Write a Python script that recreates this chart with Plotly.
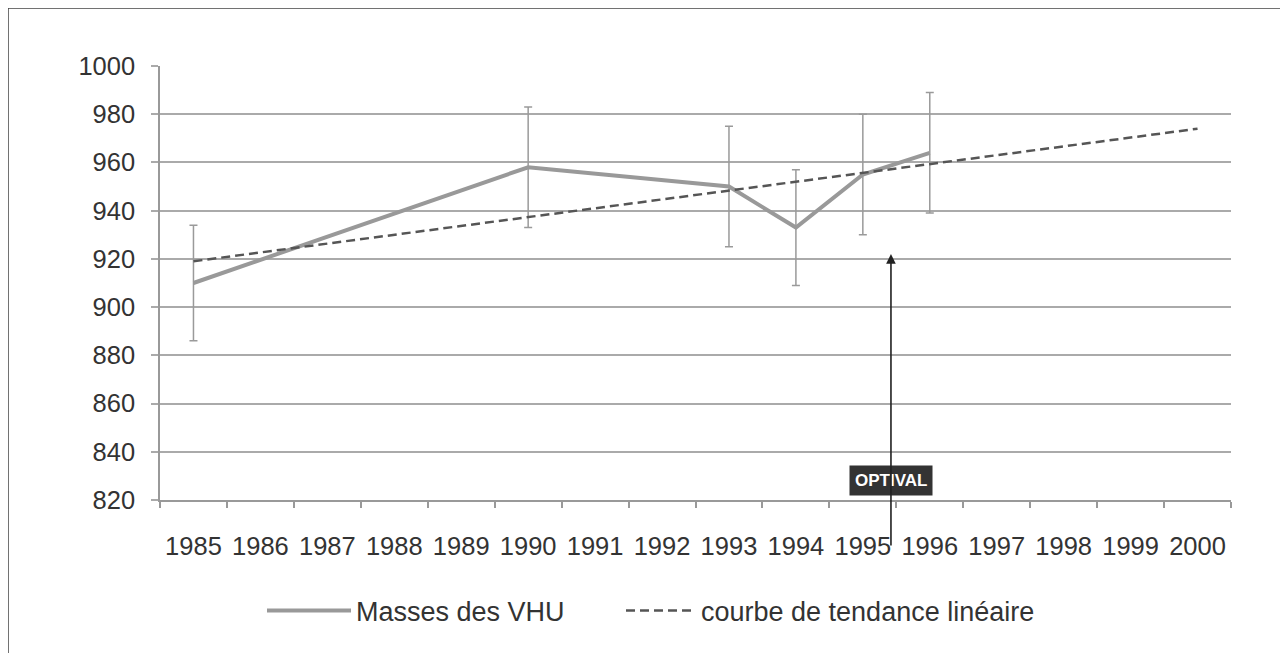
import plotly.graph_objects as go

years = [str(y) for y in range(1985, 2001)]
obs_years = ["1985", "1990", "1993", "1994", "1995", "1996"]
obs_mass = [910, 958, 950, 933, 955, 964]
obs_err = [24, 25, 25, 24, 25, 25]
trend_years = ["1985", "2000"]
trend_mass = [919, 974]
y_ticks = list(range(820, 1001, 20))

optival_x = 10.42   # category index position (between 1995 and 1996)
optival_tip = 922
optival_label_y = 828

FONT = "Liberation Sans, Arial, sans-serif"
ML, MT, PW, PH = 152, 58, 1071, 434

fig = go.Figure()
fig.add_trace(go.Scatter(
    x=obs_years, y=obs_mass, mode="lines", name="Masses des VHU",
    line=dict(color="#999999", width=4), legend="legend",
    error_y=dict(type="data", array=obs_err, visible=True, color="#9a9a9a",
                 thickness=1.5, width=4),
))
fig.add_trace(go.Scatter(
    x=trend_years, y=trend_mass, mode="lines", name="courbe de tendance linéaire",
    line=dict(color="#555555", width=2.5, dash="9px,5px"), legend="legend2",
))

fig.add_annotation(x=optival_x, y=optival_label_y, xref="x", yref="y",
                   text="<b>OPTIVAL</b>", showarrow=False,
                   font=dict(family=FONT, size=17, color="white"),
                   bgcolor="#333333", borderpad=5)
fig.add_annotation(x=optival_x, y=optival_tip, xref="x", yref="y",
                   text="", showarrow=True, ax=0, ay=293,
                   arrowhead=2, arrowsize=1.2, arrowwidth=1.6, arrowcolor="#222222")

# outer frame
fig.add_shape(type="rect", xref="paper", yref="paper",
              x0=(0 - ML) / PW, x1=1.3, y0=-0.5, y1=(MT + PH - 0) / PH,
              line=dict(color="#444444", width=1.5), layer="below")

fig.update_xaxes(
    type="category", categoryorder="array", categoryarray=years,
    tickvals=years, range=[-0.5, 15.5], tickson="boundaries",
    showgrid=False, showline=True, linecolor="#999999", linewidth=1.5,
    ticks="outside", ticklen=6, tickcolor="#999999", tickwidth=1.5,
    ticklabelstandoff=23, tickangle=0,
    tickfont=dict(family=FONT, size=25.5, color="#333333"),
)
fig.update_yaxes(
    range=[820, 1000], tickvals=y_ticks,
    showgrid=True, gridcolor="#aaaaaa", gridwidth=1.5,
    showline=True, linecolor="#999999", linewidth=1.5,
    ticks="outside", ticklen=7, tickcolor="#aaaaaa", tickwidth=1.5,
    ticklabelstandoff=11, zeroline=False,
    tickfont=dict(family=FONT, size=25.5, color="#333333"),
)
leg_common = dict(orientation="h", xanchor="left", yanchor="middle",
                  y=(MT + PH - 603) / PH,
                  font=dict(family=FONT, size=27, color="#333333"),
                  bgcolor="rgba(0,0,0,0)")
fig.update_layout(
    width=1288, height=653,
    margin=dict(l=ML, r=1288 - ML - PW, t=MT, b=653 - MT - PH),
    paper_bgcolor="white", plot_bgcolor="white",
    showlegend=True,
    legend=dict(x=(254 - ML) / PW, itemwidth=84, **leg_common),
    legend2=dict(x=(613 - ML) / PW, itemwidth=70, **leg_common),
)
fig.write_html("out.html")
